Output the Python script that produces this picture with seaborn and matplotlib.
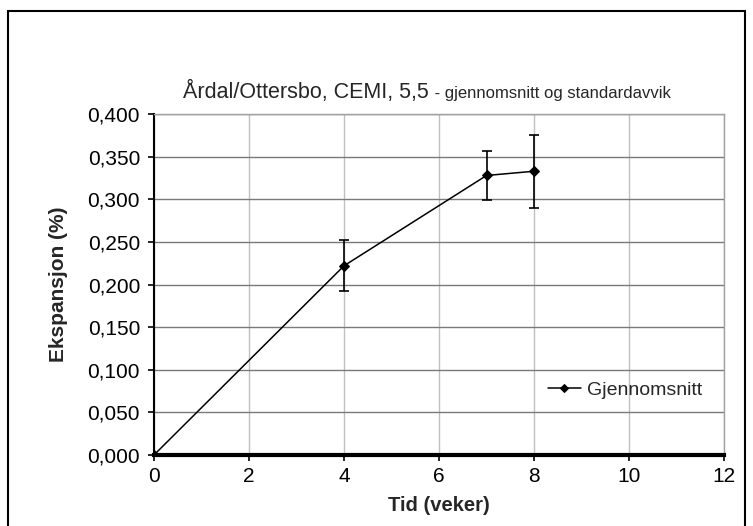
import matplotlib
matplotlib.use("Agg")
import matplotlib.pyplot as plt
import matplotlib.ticker as mticker
import pandas as pd
import seaborn as sns

# Målingar: tid i veker, gjennomsnittleg ekspansjon og standardavvik
tid = [0, 4, 7, 8]
ekspansjon = [0.000, 0.222, 0.328, 0.333]
standardavvik = [0.0, 0.030, 0.029, 0.043]

df = pd.DataFrame({"Tid": tid, "Ekspansjon": ekspansjon, "SD": standardavvik})

sns.set_style("white")
plt.rcParams["font.family"] = ["Liberation Sans", "DejaVu Sans"]

fig = plt.figure(figsize=(7.53, 5.26), dpi=100)
ax = fig.add_axes([0.2045, 0.135, 0.757, 0.648])

# grid
ax.set_axisbelow(True)
ax.xaxis.grid(True, color="#c0c0c0", lw=1.0)
ax.yaxis.grid(True, color="#7a7a7a", lw=1.0)

ax.errorbar(df["Tid"], df["Ekspansjon"], yerr=df["SD"], fmt="none",
            ecolor="black", elinewidth=1.2, capsize=3.5, capthick=1.2, zorder=3)
sns.lineplot(data=df, x="Tid", y="Ekspansjon", ax=ax, color="black", lw=1.1,
             marker="D", markersize=5.5, markeredgecolor="black",
             label="Gjennomsnitt", zorder=4)

ax.set_xlim(0, 12)
ax.set_ylim(0, 0.4)
ax.set_xticks(range(0, 13, 2))
ax.set_yticks([i * 0.05 for i in range(9)])
ax.yaxis.set_major_formatter(mticker.FuncFormatter(lambda v, p: f"{v:.3f}".replace(".", ",")))
ax.tick_params(axis="both", labelsize=15, length=4, width=1.2, direction="out",
               left=True, bottom=True, colors="black")
ax.tick_params(axis="x", pad=5)
ax.tick_params(axis="y", pad=6)

for s in ["top", "right"]:
    ax.spines[s].set_color("#a0a0a0")
    ax.spines[s].set_linewidth(1.0)
ax.spines["left"].set_color("black")
ax.spines["left"].set_linewidth(1.5)
ax.spines["bottom"].set_color("black")
ax.spines["bottom"].set_linewidth(3)

ax.set_xlabel("Tid (veker)", fontsize=14.5, fontweight="bold", labelpad=7)
ax.set_ylabel("Ekspansjon (%)", fontsize=15, fontweight="bold", labelpad=14)

leg = ax.legend(loc="center left", bbox_to_anchor=(0.66, 0.19), frameon=False,
                fontsize=14, handlelength=1.7, handletextpad=0.3, markerscale=0.8)

fig.text(0.570, 0.826, "Årdal/Ottersbo, CEMI, 5,5", ha="right", va="center", fontsize=15.5)
fig.text(0.571, 0.823, " - gjennomsnitt og standardavvik", ha="left", va="center", fontsize=12)

# ramme rundt heile figuren
fig.patches.append(plt.Rectangle((0.011, -0.05), 0.978, 1.029, transform=fig.transFigure,
                                 fill=False, edgecolor="black", lw=1.5))

fig.savefig("out.png", dpi=100)
